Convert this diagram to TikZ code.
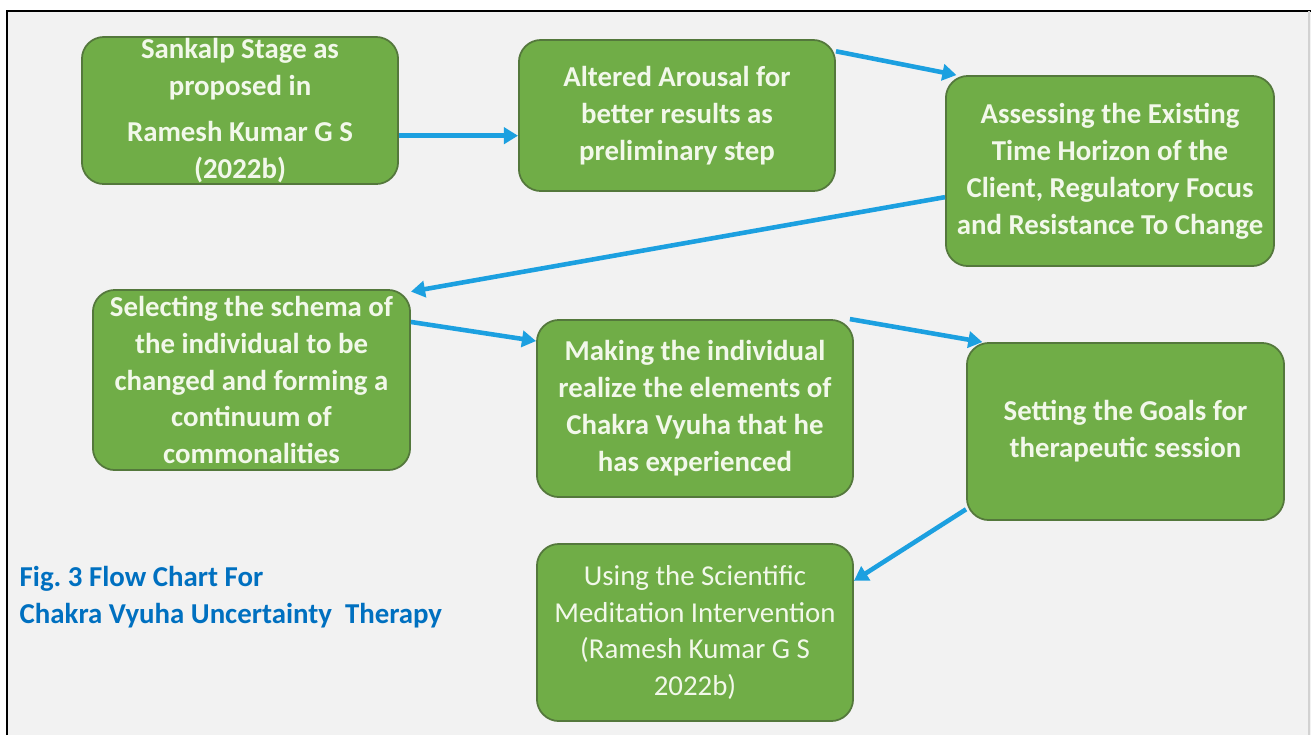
\documentclass[tikz,border=0pt]{standalone}
\usepackage{fontspec}
\setmainfont{Carlito}
\usepackage{xcolor}
\usetikzlibrary{arrows.meta, positioning}
\definecolor{boxgreen}{RGB}{112,173,71}
\definecolor{boxedge}{RGB}{84,120,60}
\definecolor{boxtext}{RGB}{242,248,234}
\definecolor{flowblue}{RGB}{28,160,224}
\definecolor{capblue}{RGB}{0,112,192}
\definecolor{pagegray}{RGB}{242,242,242}

\begin{document}
\begin{tikzpicture}[
    x=0.01cm, y=-0.01cm,
    every node/.style={font=\fontsize{8.2}{10.5}\selectfont},
    % Box styles
    stagebox/.style={rectangle, rounded corners=0.22cm, draw=boxedge, line width=0.5pt, fill=boxgreen, text=boxtext, inner sep=0pt, minimum width=3.16cm, minimum height=1.77cm, align=center, font=\fontsize{8.2}{10.5}\selectfont\bfseries},
    plainbox/.style={stagebox, font=\fontsize{8.2}{10.5}\selectfont},
    % Arrow style
    flow/.style={-{Triangle[length=4pt,width=4.6pt]}, line width=1.3pt, flowblue},
    % Caption
    caption/.style={text=capblue, align=left, anchor=west, inner sep=0pt, font=\fontsize{8.2}{10.5}\selectfont\bfseries}
]

% Page and frame
\useasboundingbox (0,0) rectangle (1311,735);
\fill[white] (0,0) rectangle (1311,735);
\fill[pagegray] (7,11) rectangle (1311,735);
\draw[black, line width=0.6pt] (7,735) -- (7,11) -- (1311,11);
\draw[gray!35, line width=0.4pt] (1309,11) -- (1309,735);

% Top row
\node[stagebox, minimum height=1.47cm] (sankalp) at (240,110.5) {Sankalp Stage as\\proposed in\\[2.8pt]Ramesh Kumar G S\\(2022b)};
\node[stagebox, minimum height=1.51cm] (arousal) at (677,115.5) {Altered Arousal for\\better results as\\preliminary step};
\node[stagebox, minimum width=3.28cm, minimum height=1.90cm] (assess) at (1110,171) {Assessing the Existing\\Time Horizon of the\\Client, Regulatory Focus\\and Resistance To Change};

% Middle row
\node[stagebox, minimum width=3.17cm, minimum height=1.80cm] (schema) at (251.5,380) {Selecting the schema of\\the individual to be\\changed and forming a\\continuum of\\commonalities};
\node[stagebox] (realize) at (695,408.5) {Making the individual\\realize the elements of\\Chakra Vyuha that he\\has experienced};
\node[stagebox, minimum width=3.17cm] (goals) at (1125.5,431.5) {Setting the Goals for\\therapeutic session};

% Bottom row
\node[plainbox] (meditation) at (695,632.5) {Using the Scientific\\Meditation Intervention\\(Ramesh Kumar G S\\2022b)};

% Caption
\node[caption] (figcap) at (19,597.5) {Fig.\ 3 Flow Chart For\\Chakra Vyuha Uncertainty\ \ Therapy};

% Flows
\draw[flow] (sankalp.-9.5) -- (sankalp.-9.5 -| arousal.west);
\draw[flow] (arousal.22) -- (assess.148);
\draw[flow] (assess.189) -- (schema.29);
\draw[flow] (schema.20) -- (realize.157);
\draw[flow] (realize.30) -- (goals.148);
\draw[flow] (goals.206) -- (meditation.18);

\end{tikzpicture}
\end{document}
